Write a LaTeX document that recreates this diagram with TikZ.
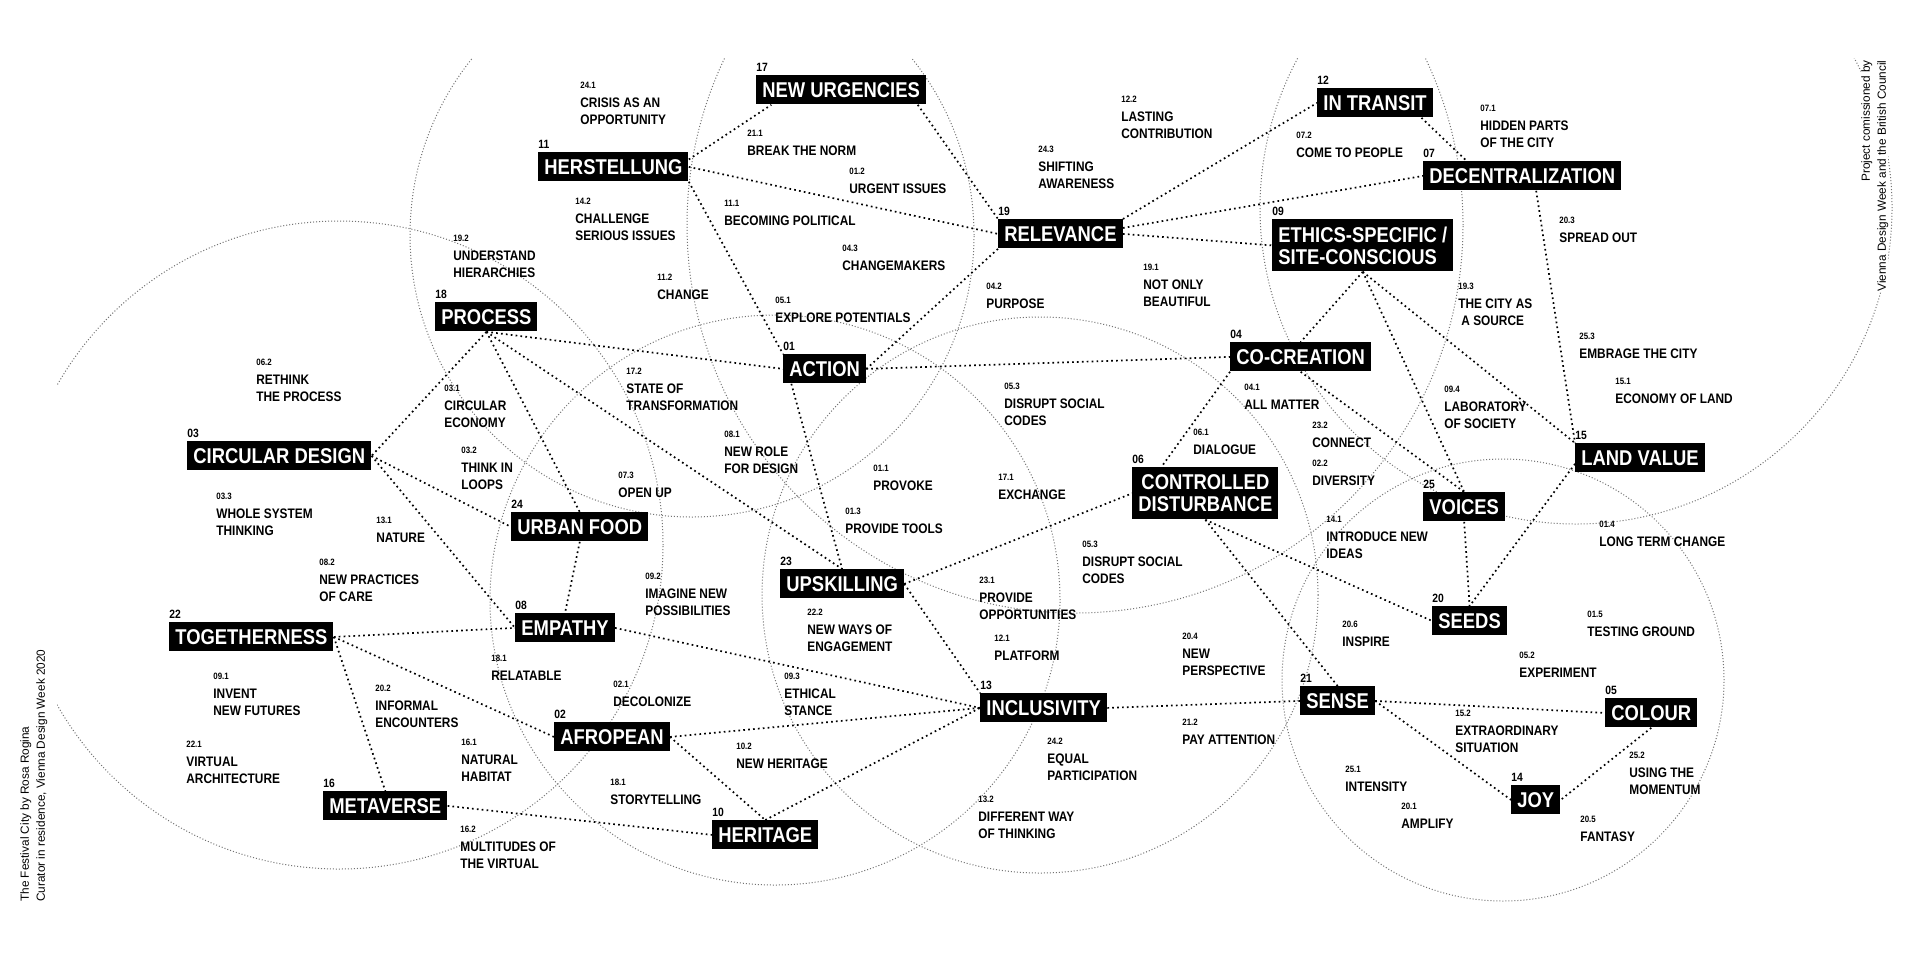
\documentclass[tikz,border=0pt]{standalone}
\usepackage{fontspec}
\setmainfont{Liberation Sans}
\newfontfamily\dinf{Liberation Sans}[FakeStretch=0.86]
\usetikzlibrary{calc}
\pgfdeclarelayer{back}
\pgfdeclarelayer{bg}
\pgfsetlayers{back,bg,main}
\newcommand{\subno}[1]{{\fontsize{4.6pt}{5pt}\selectfont #1}\\[1pt]}
\tikzset{
  mainbox/.style={fill=black, text=white, font=\dinf\bfseries\fontsize{10.7pt}{11pt}\selectfont,
    inner xsep=3pt, inner ysep=0pt, minimum height=14.5pt, anchor=north west},
  mainnum/.style={font=\dinf\bfseries\fontsize{6pt}{6pt}\selectfont, text=black,
    inner sep=0pt, anchor=south west, yshift=1.5pt},
  twoline/.style={minimum height=26pt},
  sub/.style={font=\dinf\bfseries\fontsize{6.9pt}{8.5pt}\selectfont, inner sep=0pt,
    anchor=north west, align=left},
  link/.style={black, line width=0.85pt, dash pattern=on 0.85pt off 1.6pt},
  ring/.style={black!55, line width=0.5pt, dash pattern=on 0.5pt off 1pt},
  credit/.style={font=\fontsize{5.9pt}{8pt}\selectfont, inner sep=0pt, rotate=90}
}
\begin{document}
\begin{tikzpicture}[x=0.5pt,y=-0.5pt]
\useasboundingbox (0,0) rectangle (1920,960);
\begin{pgfonlayer}{back}
\fill[white] (0,0) rectangle (1920,960);
\begin{scope}
\clip (57,58) rectangle (1920,960);
\draw[ring] (339,545) circle[radius=162pt];
\draw[ring] (692,235) circle[radius=141pt];
\draw[ring] (1040,595) circle[radius=139pt];
\draw[ring] (775,600) circle[radius=142.5pt];
\draw[ring] (1075,225) circle[radius=194pt];
\draw[ring] (1503,680) circle[radius=110.5pt];
\draw[ring] (1576,208) circle[radius=158pt];
\end{scope}
\end{pgfonlayer}

% main boxes
\node[mainbox, label={[mainnum]north west:17}] (nu) at (756,75) {NEW URGENCIES};
\node[mainbox, label={[mainnum]north west:11}] (her) at (538,152) {HERSTELLUNG};
\node[mainbox, label={[mainnum]north west:18}] (proc) at (435,302) {PROCESS};
\node[mainbox, label={[mainnum]north west:03}] (circ) at (187,441) {CIRCULAR DESIGN};
\node[mainbox, label={[mainnum]north west:01}] (act) at (783,354) {ACTION};
\node[mainbox, label={[mainnum]north west:19}] (rel) at (998,219) {RELEVANCE};
\node[mainbox, label={[mainnum]north west:24}] (urb) at (511,512) {URBAN FOOD};
\node[mainbox, label={[mainnum]north west:08}] (emp) at (515,613) {EMPATHY};
\node[mainbox, label={[mainnum]north west:22}] (tog) at (169,622) {TOGETHERNESS};
\node[mainbox, label={[mainnum]north west:02}] (afr) at (554,722) {AFROPEAN};
\node[mainbox, label={[mainnum]north west:16}] (meta) at (323,791) {METAVERSE};
\node[mainbox, label={[mainnum]north west:10}] (herit) at (712,820) {HERITAGE};
\node[mainbox, label={[mainnum]north west:23}] (ups) at (780,569) {UPSKILLING};
\node[mainbox, label={[mainnum]north west:13}] (incl) at (980,693) {INCLUSIVITY};
\node[mainbox, twoline, align=center, label={[mainnum]north west:06}] (cd) at (1132,467) {CONTROLLED\\DISTURBANCE};
\node[mainbox, label={[mainnum]north west:04}] (coc) at (1230,342) {CO-CREATION};
\node[mainbox, label={[mainnum]north west:25}] (voi) at (1423,492) {VOICES};
\node[mainbox, label={[mainnum]north west:20}] (seeds) at (1432,606) {SEEDS};
\node[mainbox, label={[mainnum]north west:21}] (sense) at (1300,686) {SENSE};
\node[mainbox, label={[mainnum]north west:05}] (col) at (1605,698) {COLOUR};
\node[mainbox, label={[mainnum]north west:14}] (joy) at (1511,785) {JOY};
\node[mainbox, label={[mainnum]north west:15}] (lv) at (1575,443) {LAND VALUE};
\node[mainbox, twoline, align=left, label={[mainnum]north west:09}] (eth) at (1272,219) {ETHICS-SPECIFIC /\\SITE-CONSCIOUS};
\node[mainbox, label={[mainnum]north west:07}] (dec) at (1423,161) {DECENTRALIZATION};
\node[mainbox, label={[mainnum]north west:12}] (it) at (1317,88) {IN TRANSIT};

% connectors
\begin{pgfonlayer}{bg}
\draw[link] ($(her.north east)!0.25!(her.south east)$) -- ($(nu.south west)!0.09!(nu.south east)$);
\draw[link] (her.east) -- (rel.west);
\draw[link] (her.south east) -- (act.north west);
\draw[link] ($(nu.south west)!0.95!(nu.south east)$) -- (rel.north west);
\draw[link] (act.east) -- (rel.south west);
\draw[link] (act.east) -- (coc.west);
\draw[link] (proc.south) -- (circ.east);
\draw[link] (proc.south) -- (urb.north);
\draw[link] (proc.south) -- (act.west);
\draw[link] (proc.south) -- (ups.north);
\draw[link] (circ.east) -- (urb.west);
\draw[link] (circ.east) -- (emp.west);
\draw[link] (urb.south) -- (emp.north);
\draw[link] (tog.east) -- (emp.west);
\draw[link] (tog.east) -- (afr.west);
\draw[link] (tog.east) -- (meta.north);
\draw[link] (meta.east) -- (herit.west);
\draw[link] (emp.east) -- (incl.west);
\draw[link] (afr.east) -- (incl.west);
\draw[link] (afr.east) -- (herit.north);
\draw[link] (herit.north) -- (incl.west);
\draw[link] ($(act.south west)!0.1!(act.south east)$) -- (ups.north);
\draw[link] (ups.east) -- (cd.west);
\draw[link] (ups.east) -- (incl.north west);
\draw[link] (rel.north east) -- (it.west);
\draw[link] ($(rel.north east)!0.3!(rel.south east)$) -- (dec.west);
\draw[link] (rel.east) -- (eth.west);
\draw[link] ($(it.south west)!0.9!(it.south east)$) -- ($(dec.north west)!0.22!(dec.north east)$);
\draw[link] ($(dec.south west)!0.57!(dec.south east)$) -- (lv.north west);
\draw[link] (eth.south) -- (coc.north);
\draw[link] (eth.south) -- (voi.north);
\draw[link] (eth.south) -- (lv.north west);
\draw[link] (coc.south west) -- ($(cd.north west)!0.2!(cd.north east)$);
\draw[link] (coc.south) -- (voi.north);
\draw[link] (cd.south) -- (seeds.west);
\draw[link] (cd.south) -- (sense.north);
\draw[link] (voi.south) -- (seeds.north);
\draw[link] ($(lv.north west)!0.7!(lv.south west)$) -- (seeds.north);
\draw[link] (incl.east) -- (sense.west);
\draw[link] (sense.east) -- (col.west);
\draw[link] (sense.east) -- (joy.west);
\draw[link] (col.south) -- (joy.east);
\end{pgfonlayer}

% sub items
\node[sub] (s241) at (580,82) {\subno{24.1}CRISIS AS AN\\OPPORTUNITY};
\node[sub] (s211) at (747,130) {\subno{21.1}BREAK THE NORM};
\node[sub] (s012) at (849,168) {\subno{01.2}URGENT ISSUES};
\node[sub] (s142) at (575,198) {\subno{14.2}CHALLENGE\\SERIOUS ISSUES};
\node[sub] (s111) at (724,200) {\subno{11.1}BECOMING POLITICAL};
\node[sub] (s192) at (453,235) {\subno{19.2}UNDERSTAND\\HIERARCHIES};
\node[sub] (s043) at (842,245) {\subno{04.3}CHANGEMAKERS};
\node[sub] (s112) at (657,274) {\subno{11.2}CHANGE};
\node[sub] (s051) at (775,297) {\subno{05.1}EXPLORE POTENTIALS};
\node[sub] (s042) at (986,283) {\subno{04.2}PURPOSE};
\node[sub] (s243) at (1038,146) {\subno{24.3}SHIFTING\\AWARENESS};
\node[sub] (s122) at (1121,96) {\subno{12.2}LASTING\\CONTRIBUTION};
\node[sub] (s191) at (1143,264) {\subno{19.1}NOT ONLY\\BEAUTIFUL};
\node[sub] (s072) at (1296,132) {\subno{07.2}COME TO PEOPLE};
\node[sub] (s071) at (1480,105) {\subno{07.1}HIDDEN PARTS\\OF THE CITY};
\node[sub] (s203) at (1559,217) {\subno{20.3}SPREAD OUT};
\node[sub] (s193) at (1458,283) {\subno{19.3}THE CITY AS\\\hspace*{1.5pt}A SOURCE};
\node[sub] (s253) at (1579,333) {\subno{25.3}EMBRAGE THE CITY};
\node[sub] (s151) at (1615,378) {\subno{15.1}ECONOMY OF LAND};
\node[sub] (s094) at (1444,386) {\subno{09.4}LABORATORY\\OF SOCIETY};
\node[sub] (s062) at (256,359) {\subno{06.2}RETHINK\\THE PROCESS};
\node[sub] (s031) at (444,385) {\subno{03.1}CIRCULAR\\ECONOMY};
\node[sub] (s172) at (626,368) {\subno{17.2}STATE OF\\TRANSFORMATION};
\node[sub] (s053a) at (1004,383) {\subno{05.3}DISRUPT SOCIAL\\CODES};
\node[sub] (s041) at (1244,384) {\subno{04.1}ALL MATTER};
\node[sub] (s061) at (1193,429) {\subno{06.1}DIALOGUE};
\node[sub] (s232) at (1312,422) {\subno{23.2}CONNECT};
\node[sub] (s022) at (1312,460) {\subno{02.2}DIVERSITY};
\node[sub] (s081) at (724,431) {\subno{08.1}NEW ROLE\\FOR DESIGN};
\node[sub] (s032) at (461,447) {\subno{03.2}THINK IN\\LOOPS};
\node[sub] (s073) at (618,472) {\subno{07.3}OPEN UP};
\node[sub] (s011) at (873,465) {\subno{01.1}PROVOKE};
\node[sub] (s171) at (998,474) {\subno{17.1}EXCHANGE};
\node[sub] (s013) at (845,508) {\subno{01.3}PROVIDE TOOLS};
\node[sub] (s033) at (216,493) {\subno{03.3}WHOLE SYSTEM\\THINKING};
\node[sub] (s131) at (376,517) {\subno{13.1}NATURE};
\node[sub] (s082) at (319,559) {\subno{08.2}NEW PRACTICES\\OF CARE};
\node[sub] (s092) at (645,573) {\subno{09.2}IMAGINE NEW\\POSSIBILITIES};
\node[sub] (s222) at (807,609) {\subno{22.2}NEW WAYS OF\\ENGAGEMENT};
\node[sub] (s231) at (979,577) {\subno{23.1}PROVIDE\\OPPORTUNITIES};
\node[sub] (s053b) at (1082,541) {\subno{05.3}DISRUPT SOCIAL\\CODES};
\node[sub] (s141) at (1326,516) {\subno{14.1}INTRODUCE NEW\\IDEAS};
\node[sub] (s014) at (1599,521) {\subno{01.4}LONG TERM CHANGE};
\node[sub] (s206) at (1342,621) {\subno{20.6}INSPIRE};
\node[sub] (s015) at (1587,611) {\subno{01.5}TESTING GROUND};
\node[sub] (s121) at (994,635) {\subno{12.1}PLATFORM};
\node[sub] (s204) at (1182,633) {\subno{20.4}NEW\\PERSPECTIVE};
\node[sub] (s181a) at (491,655) {\subno{18.1}RELATABLE};
\node[sub] (s091) at (213,673) {\subno{09.1}INVENT\\NEW FUTURES};
\node[sub] (s202) at (375,685) {\subno{20.2}INFORMAL\\ENCOUNTERS};
\node[sub] (s021) at (613,681) {\subno{02.1}DECOLONIZE};
\node[sub] (s093) at (784,673) {\subno{09.3}ETHICAL\\STANCE};
\node[sub] (s052) at (1519,652) {\subno{05.2}EXPERIMENT};
\node[sub] (s212) at (1182,719) {\subno{21.2}PAY ATTENTION};
\node[sub] (s152) at (1455,710) {\subno{15.2}EXTRAORDINARY\\SITUATION};
\node[sub] (s221) at (186,741) {\subno{22.1}VIRTUAL\\ARCHITECTURE};
\node[sub] (s161) at (461,739) {\subno{16.1}NATURAL\\HABITAT};
\node[sub] (s102) at (736,743) {\subno{10.2}NEW HERITAGE};
\node[sub] (s242) at (1047,738) {\subno{24.2}EQUAL\\PARTICIPATION};
\node[sub] (s181b) at (610,779) {\subno{18.1}STORYTELLING};
\node[sub] (s251) at (1345,766) {\subno{25.1}INTENSITY};
\node[sub] (s252) at (1629,752) {\subno{25.2}USING THE\\MOMENTUM};
\node[sub] (s162) at (460,826) {\subno{16.2}MULTITUDES OF\\THE VIRTUAL};
\node[sub] (s132) at (978,796) {\subno{13.2}DIFFERENT WAY\\OF THINKING};
\node[sub] (s201) at (1401,803) {\subno{20.1}AMPLIFY};
\node[sub] (s205) at (1580,816) {\subno{20.5}FANTASY};

% credits
\node[credit, anchor=north west, align=left] (festival) at (20,902)
  {The Festival City by Rosa Rogina\\Curator in residence, Vienna Design Week 2020};
\node[credit, anchor=north east, align=right, fill=white] (commission) at (1861,60)
  {Project comissioned by\\Vienna Design Week and the British Council};
\end{tikzpicture}
\end{document}
